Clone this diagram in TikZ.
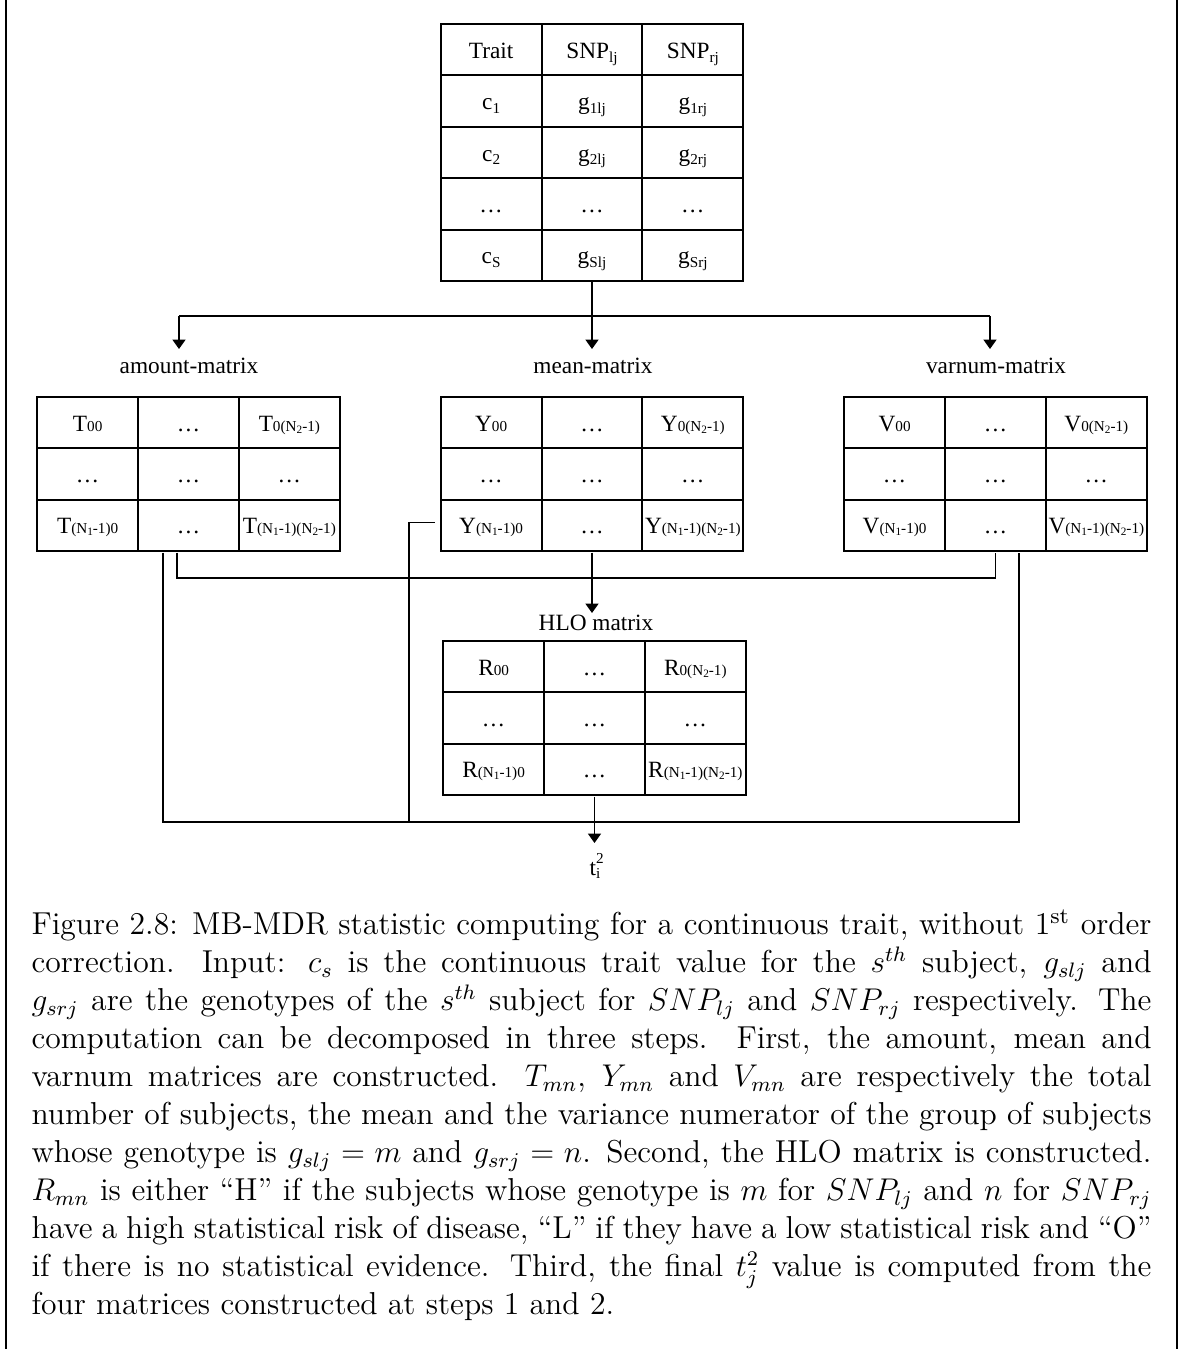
\documentclass[tikz,border=0pt]{standalone}
\usepackage{fontspec}
\newfontfamily\tnr{Liberation Serif}
\usetikzlibrary{arrows.meta,matrix,calc}

% one drawing unit
\def\px{0.3817pt}
% fonts of the diagram
\newcommand\figfont{\tnr\fontsize{8.9pt}{10pt}\selectfont}
\newcommand\sm[1]{{\fontsize{5.8pt}{6pt}\selectfont #1}}
\newcommand\lo[1]{\raisebox{-0.35ex}{\sm{#1}}}
\newcommand\xs[1]{\raisebox{-0.3ex}{\fontsize{4.3pt}{5pt}\selectfont #1}}

\begin{document}
\begin{tikzpicture}[x=\px,y=-\px,
  cell/.style={draw, line width=0.76pt, minimum width=38.5pt, minimum height=19.6pt,
               inner sep=0pt, text height=8pt, text depth=1.5pt, anchor=center,
               font=\figfont},
  tbl/.style={matrix of nodes, nodes={cell}, column sep=-0.76pt, row sep=-0.76pt,
              inner sep=0pt},
  lbl/.style={font=\figfont, inner sep=0pt},
  conn/.style={line width=0.45pt},
  bus/.style={line width=0.6pt},
  arr/.style={conn, -{Triangle[width=5pt,length=3.6pt]}},
  frame/.style={line width=0.45pt}]

\fill[white] (0,0) rectangle (1179,1349);
\useasboundingbox (0,0) rectangle (1179,1349);

% side rules of the page frame
\draw[frame] (6,0) -- (6,1349);
\draw[frame] (1177,0) -- (1177,1349);

% input table
\matrix (T) [tbl] at (592,152.5) {
  Trait & SNP\lo{lj} & SNP\lo{rj} \\
  c\lo{1} & g\lo{1lj} & g\lo{1rj} \\
  c\lo{2} & g\lo{2lj} & g\lo{2rj} \\
  … & … & … \\
  c\lo{S} & g\lo{Slj} & g\lo{Srj} \\
};

% step 1 matrices
\node[lbl] (la) at (189,366) {amount-matrix};
\node[lbl] (lm) at (593,366) {mean-matrix};
\node[lbl] (lv) at (996,366) {varnum-matrix};

\matrix (A) [tbl] at (188.5,474) {
  T\sm{00} & … & T\sm{0(N\xs{2}-1)} \\
  … & … & … \\
  T\sm{(N\xs{1}-1)0} & … & T\sm{(N\xs{1}-1)(N\xs{2}-1)} \\
};
\matrix (M) [tbl] at (592,474) {
  Y\sm{00} & … & Y\sm{0(N\xs{2}-1)} \\
  … & … & … \\
  Y\sm{(N\xs{1}-1)0} & … & Y\sm{(N\xs{1}-1)(N\xs{2}-1)} \\
};
\matrix (V) [tbl] at (995.5,474) {
  V\sm{00} & … & V\sm{0(N\xs{2}-1)} \\
  … & … & … \\
  V\sm{(N\xs{1}-1)0} & … & V\sm{(N\xs{1}-1)(N\xs{2}-1)} \\
};

% step 2 matrix
\node[lbl] (lh) at (596,623) {HLO matrix};
\matrix (H) [tbl] at (594.5,718) {
  R\sm{00} & … & R\sm{0(N\xs{2}-1)} \\
  … & … & … \\
  R\sm{(N\xs{1}-1)0} & … & R\sm{(N\xs{1}-1)(N\xs{2}-1)} \\
};

% result
\node[lbl] (lt) at (595,866) {t\rlap{\raisebox{1.1ex}{\sm{2}}}\lo{i}};

% fan-out from the input table
\coordinate (ja) at (179,316);
\coordinate (jv) at (990,316);
\coordinate (ta) at (179,349);
\coordinate (tv) at (990,349);
\coordinate (tm) at (0,349);
\draw[conn] (T.south) -- (T.south |- ja);
\draw[conn] (ja) -- (jv);
\draw[arr] (ja) -- (ta);
\draw[arr] (T.south |- ja) -- (T.south |- tm);
\draw[arr] (jv) -- (tv);

% step 1 to step 2
\path ($(A.south)+(-25.5,0)$) coordinate (aL)
      ($(A.south)+(-11.5,0)$) coordinate (aR)
      ($(V.south)+(23.5,0)$)  coordinate (vR)
      ($(M-3-1.west)+(-5,-3)$) coordinate (mL);
\coordinate (hb) at (0,578);
\coordinate (bb) at (0,822);
\coordinate (mb) at (409,822);
\coordinate (th) at (0,613);
\coordinate (tt) at (0,843);
\draw[conn] (aR) -- (aR |- hb) -- (V.south |- hb) -- (V.south);
\draw[arr] (M.south) -- (M.south |- th);

% everything to the result
\draw[bus] (aL) -- (aL |- bb) -- (vR |- bb) -- (vR);
\draw[conn] (mL) -| (mb);
\draw[arr] (H.south) -- (H.south |- tt);

% caption
\node[anchor=north west, inner sep=0pt, text width=427.5pt, align=justify,
      font=\fontsize{12.1pt}{14.5pt}\selectfont] (cap) at (31,909) {%
Figure 2.8: MB-MDR statistic computing for a continuous trait, without 1\textsuperscript{st} order\linebreak
correction. Input: $c_s$ is the continuous trait value for the $s^{th}$ subject, $g_{slj}$ and\linebreak
$g_{srj}$ are the genotypes of the $s^{th}$ subject for $SNP_{lj}$ and $SNP_{rj}$ respectively. The\linebreak
computation can be decomposed in three steps. First, the amount, mean and\linebreak
varnum matrices are constructed. $T_{mn}$, $Y_{mn}$ and $V_{mn}$ are respectively the total\linebreak
number of subjects, the mean and the variance numerator of the group of subjects\linebreak
whose genotype is $g_{slj} = m$ and $g_{srj} = n$. Second, the HLO matrix is constructed.\linebreak
$R_{mn}$ is either ``H'' if the subjects whose genotype is $m$ for $SNP_{lj}$ and $n$ for $SNP_{rj}$\linebreak
have a high statistical risk of disease, ``L'' if they have a low statistical risk and ``O''\linebreak
if there is no statistical evidence. Third, the final $t_j^2$ value is computed from the\linebreak
four matrices constructed at steps 1 and 2.};

\end{tikzpicture}
\end{document}
